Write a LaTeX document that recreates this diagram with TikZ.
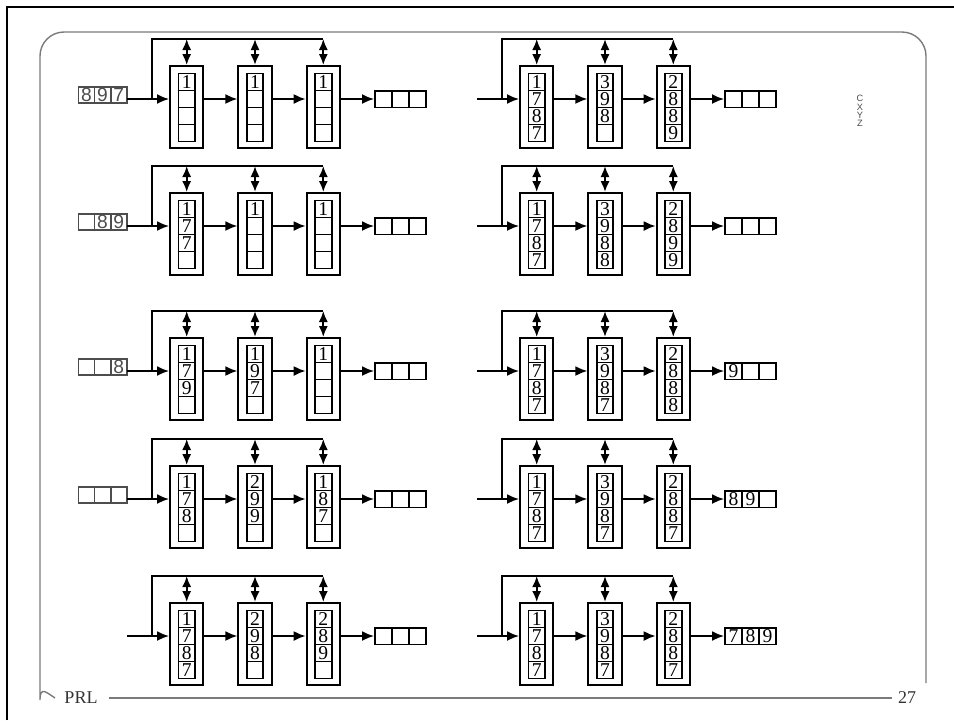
\documentclass[tikz,border=0pt]{standalone}
\usepackage{fontspec}
\setmainfont{Liberation Serif}
\setsansfont{Liberation Sans}
\usetikzlibrary{arrows.meta, positioning, calc}

\definecolor{framegray}{HTML}{7A7A7A}
\definecolor{reggray}{HTML}{4D4D4D}

\tikzset{
  stagebox/.style={draw, line width=1pt, minimum width=16.6pt, minimum height=41pt, inner sep=0pt},
  slot/.style={draw, line width=0.9pt, minimum width=8.3pt, minimum height=8.5pt, inner sep=0pt,
    font=\fontsize{9.8}{9.8}\selectfont},
  outslot/.style={slot, minimum width=8.5pt, minimum height=8.4pt},
  inslot/.style={draw=reggray, line width=0.9pt, minimum width=8pt, minimum height=7.7pt, inner sep=0pt,
    text=reggray, font=\sffamily\fontsize{9.6}{9.6}\selectfont},
  flow/.style={line width=1pt, -{Latex[length=6pt,width=5pt]}},
  dblarrow/.style={line width=1pt, {Latex[length=5.5pt,width=4.6pt]}-{Latex[length=5.5pt,width=4.6pt]}},
  wire/.style={line width=1pt},
  frame/.style={draw=framegray, line width=0.7pt},
  footer/.style={inner sep=0pt, text=black!80, font=\fontsize{9}{9}\selectfont},
  tag/.style={inner sep=0pt, align=center, text=black!70, font=\sffamily\fontsize{4.6}{4.2}\selectfont},
}

% empty slot is written as -
\newcommand{\slotval}[1]{\if#1-\else#1\fi}

% input register: name, row y, values
\newcommand{\inreg}[3]{%
  \foreach \val [count=\ci] in {#3}
    \node[inslot] (#1i\ci) at ({70.3+16.1*\ci},{#2-4}) {\slotval{\val}};
}

% one row of three stages: name, x offset, row y, slots of stage 1..3, output register
\newcommand{\stagerow}[7]{%
  \foreach \cells [count=\bi] in {{#4},{#5},{#6}} {
    \node[stagebox] (#1b\bi) at ({118.4+68.3*\bi+#2},{#3+8}) {};
    \foreach \val [count=\ci] in \cells
      \node[slot] (#1b\bi-\ci) at ({118.4+68.3*\bi+#2},{#3+17*(\ci-2)}) {\slotval{\val}};
    \coordinate (#1t\bi) at ({118.4+68.3*\bi+#2},{#3-60});
  }
  \foreach \val [count=\ci] in {#7}
    \node[outslot] (#1o\ci) at ({366.5+17*\ci+#2},#3) {\slotval{\val}};
  % wiring
  \coordinate (#1in) at ({127+#2},#3);
  \coordinate (#1br) at ({152+#2},#3);
  \draw[flow] (#1in) -- (#1in -| #1b1.west);
  \draw[flow] (#1b1.east |- #1in) -- (#1b2.west |- #1in);
  \draw[flow] (#1b2.east |- #1in) -- (#1b3.west |- #1in);
  \draw[flow] (#1b3.east |- #1in) -- (#1o1.west);
  \draw[wire] (#1br) |- (#1t3);
  \foreach \bi in {1,2,3}
    \draw[dblarrow] (#1t\bi) -- (#1b\bi.north);
}

\begin{document}
\begin{tikzpicture}[x=0.5pt, y=-0.5pt]
\useasboundingbox (0,0) rectangle (954,720);
% Page frame
\draw[line width=1.3pt] (7,720) -- (7,7) -- (954,7);
\draw[frame, rounded corners=12pt] (55,698) .. controls (46,692) and (40,686) .. (40,676)
  -- (40,32) -- (926,32) -- (926,683);
\node[footer] (prl) at (81,698) {PRL};
\node[footer] (pg) at (907,698) {27};
\draw[frame] ([xshift=5.5pt]prl.east) -- ([xshift=-3pt]pg.west);
\node[tag] (cxyz) at (860,111) {C\\X\\Y\\Z};

% Left column
\inreg{L1}{99}{8,9,7}
\stagerow{L1}{0}{99}{1,-,-,-}{1,-,-,-}{1,-,-,-}{-,-,-}
\inreg{L2}{226}{-,8,9}
\stagerow{L2}{0}{226}{1,7,7,-}{1,-,-,-}{1,-,-,-}{-,-,-}
\inreg{L3}{371}{-,-,8}
\stagerow{L3}{0}{371}{1,7,9,-}{1,9,7,-}{1,-,-,-}{-,-,-}
\inreg{L4}{499}{-,-,-}
\stagerow{L4}{0}{499}{1,7,8,-}{2,9,9,-}{1,8,7,-}{-,-,-}
\stagerow{L5}{0}{636}{1,7,8,7}{2,9,8,-}{2,8,9,-}{-,-,-}

% Right column
\stagerow{R1}{350}{99}{1,7,8,7}{3,9,8,-}{2,8,8,9}{-,-,-}
\stagerow{R2}{350}{226}{1,7,8,7}{3,9,8,8}{2,8,9,9}{-,-,-}
\stagerow{R3}{350}{371}{1,7,8,7}{3,9,8,7}{2,8,8,8}{9,-,-}
\stagerow{R4}{350}{499}{1,7,8,7}{3,9,8,7}{2,8,8,7}{8,9,-}
\stagerow{R5}{350}{636}{1,7,8,7}{3,9,8,7}{2,8,8,7}{7,8,9}
\end{tikzpicture}
\end{document}
